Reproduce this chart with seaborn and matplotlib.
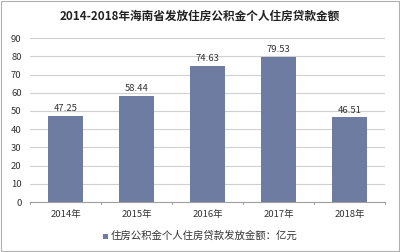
import matplotlib
matplotlib.use("Agg")
import matplotlib.pyplot as plt
import seaborn as sns
import pandas as pd
from matplotlib.patches import Rectangle

years = ["2014年", "2015年", "2016年", "2017年", "2018年"]
values = [47.25, 58.44, 74.63, 79.53, 46.51]
title = "2014-2018年海南省发放住房公积金个人住房贷款金额"
legend_label = "住房公积金个人住房贷款发放金额：亿元"
yticks = [0, 10, 20, 30, 40, 50, 60, 70, 80, 90]

sns.set_theme(style="white")
plt.rcParams['font.family'] = ['Noto Sans CJK SC', 'DejaVu Sans']

df = pd.DataFrame({"year": years, "value": values})
bar_color = "#6F7CA1"

fig = plt.figure(figsize=(4.0, 2.52), dpi=100)
ax = fig.add_axes([0.075, 0.198, 0.8875, 0.651])
sns.barplot(data=df, x="year", y="value", color=bar_color, width=0.5,
            saturation=1, ax=ax, edgecolor="none")

ax.set_ylim(0, 90)
ax.set_yticks(yticks)
ax.set_yticklabels([str(v) for v in yticks], fontsize=6.8, color="#333333")
ax.yaxis.grid(True, color="#D0D0D0", linewidth=0.8)
ax.set_axisbelow(True)
ax.set_xlabel("")
ax.set_ylabel("")
for s in ["top", "right", "left"]:
    ax.spines[s].set_visible(False)
ax.spines["bottom"].set_color("#A0A0A0")
ax.spines["bottom"].set_linewidth(0.8)
ax.set_xlim(-0.5, 4.5)
ax.tick_params(axis="y", length=0, pad=6)
ax.tick_params(axis="x", length=0, labelsize=6.8, colors="#333333", pad=6)
for xb in [-0.5, 0.5, 1.5, 2.5, 3.5, 4.5]:
    ax.plot([xb, xb], [0, -1.2], color="#A0A0A0", lw=0.8, clip_on=False)

for i, v in enumerate(values):
    ax.text(i, v + 1.5, f"{v:.2f}", ha="center", va="bottom", fontsize=6.8, color="#333333")

fig.text(0.5, 0.935, title, ha="center", va="center", fontsize=8.4, fontweight="bold", color="#222222")

# legend
fig.patches.append(Rectangle((0.258, 0.053), 0.012, 0.019, transform=fig.transFigure,
                             facecolor=bar_color, edgecolor="none"))
fig.text(0.276, 0.063, legend_label, ha="left", va="center", fontsize=7.5, color="#333333")

# border
fig.patches.append(Rectangle((0.002, 0.003), 0.995, 0.993, transform=fig.transFigure,
                             facecolor="none", edgecolor="#B0B0B0", linewidth=0.8))

fig.savefig("out.png", dpi=100)
